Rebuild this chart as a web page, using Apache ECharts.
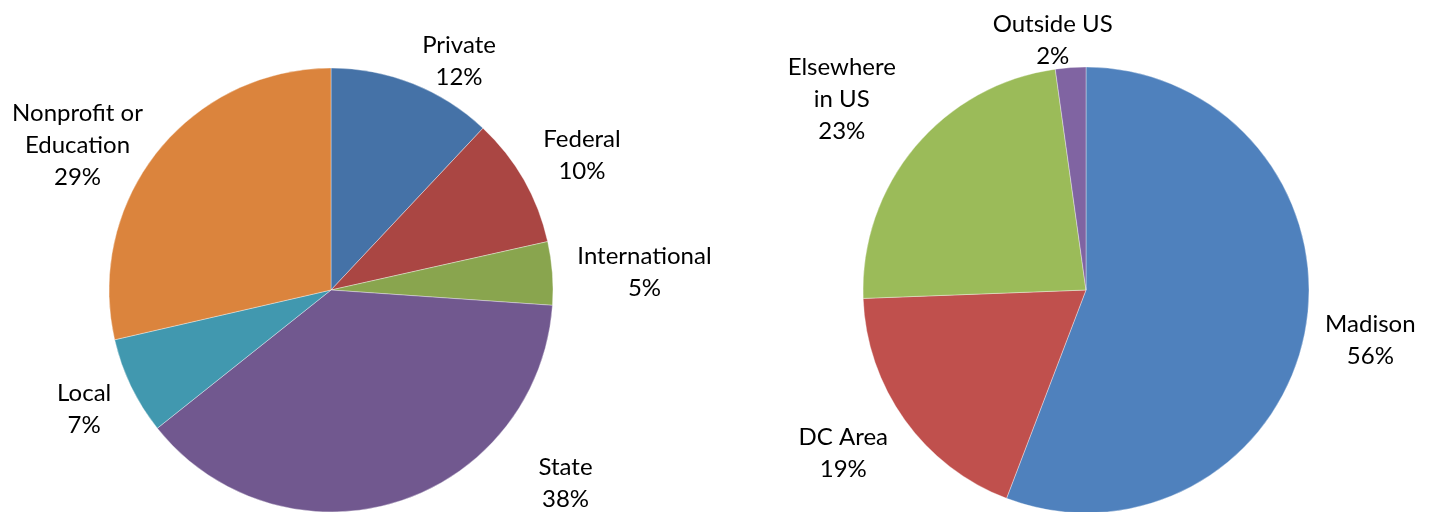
<!DOCTYPE html>
<html>
<head>
<meta charset="utf-8">
<script src="https://cdn.jsdelivr.net/npm/echarts@6/dist/echarts.min.js"></script>
<style>
  html, body { margin: 0; padding: 0; background: #fff; }
  #main { width: 1436px; height: 512px; }
</style>
</head>
<body>
<div id="main"></div>
<script>
// left pie: sector of employer
var sectorNames = ['Private', 'Federal', 'International', 'State', 'Local', 'Nonprofit or\nEducation'];
var sectorValues = [12.0, 9.5, 4.6, 38.2, 7.1, 28.6];
var sectorLabels = ['12%', '10%', '5%', '38%', '7%', '29%'];
var sectorColors = ['#4572A7', '#AA4643', '#89A54E', '#71588F', '#4198AF', '#DB843D'];

// right pie: location
var placeNames = ['Madison', 'DC Area', 'Elsewhere\nin US', 'Outside US'];
var placeValues = [55.8, 18.6, 23.4, 2.2];
var placeLabels = ['56%', '19%', '23%', '2%'];
var placeColors = ['#4F81BD', '#C0504D', '#9BBB59', '#8064A2'];

// small shifts so the labels sit where excel's "best fit" put them
var labelNudge = [
  [[0, -11], [4, -19], [8, 0], [133, -30], [-4, 18], [0, 1]],
  [[3, 8], [-2, 26], [-5, -40], [48, -15]]
];

var chart = echarts.init(document.getElementById('main'));

function toData(names, values, labels) {
  var out = [];
  for (var i = 0; i < names.length; i++) {
    out.push({ name: names[i], value: values[i], pct: labels[i] });
  }
  return out;
}

var labelStyle = {
  show: true,
  position: 'outside',
  fontFamily: 'Lato',
  fontSize: 24,
  lineHeight: 32,
  color: '#000',
  formatter: function (p) { return p.name + '\n' + p.data.pct; }
};

// center the multi-line text on the block echarts laid out, then nudge
function centerLabel(p) {
  var r = p.labelRect;
  var n = labelNudge[p.seriesIndex][p.dataIndex];
  return {
    x: r.x + r.width / 2 + n[0],
    y: r.y + r.height / 2 + n[1],
    align: 'center',
    verticalAlign: 'middle'
  };
}

var option = {
  animation: false,
  series: [{
    type: 'pie',
    center: [331, 290],
    radius: 222,
    startAngle: 90,
    clockwise: true,
    avoidLabelOverlap: false,
    color: sectorColors,
    itemStyle: { borderColor: 'rgba(255,255,255,0.6)', borderWidth: 0.6 },
    label: labelStyle,
    labelLine: { show: false, length: 12, length2: 0 },
    labelLayout: centerLabel,
    emphasis: { disabled: true },
    data: toData(sectorNames, sectorValues, sectorLabels)
  }, {
    type: 'pie',
    center: [1086, 290],
    radius: 223,
    startAngle: 90,
    clockwise: true,
    avoidLabelOverlap: false,
    color: placeColors,
    itemStyle: { borderColor: 'rgba(255,255,255,0.6)', borderWidth: 0.6 },
    label: labelStyle,
    labelLine: { show: false, length: 12, length2: 0 },
    labelLayout: centerLabel,
    emphasis: { disabled: true },
    data: toData(placeNames, placeValues, placeLabels)
  }]
};

chart.setOption(option);
</script>
</body>
</html>
